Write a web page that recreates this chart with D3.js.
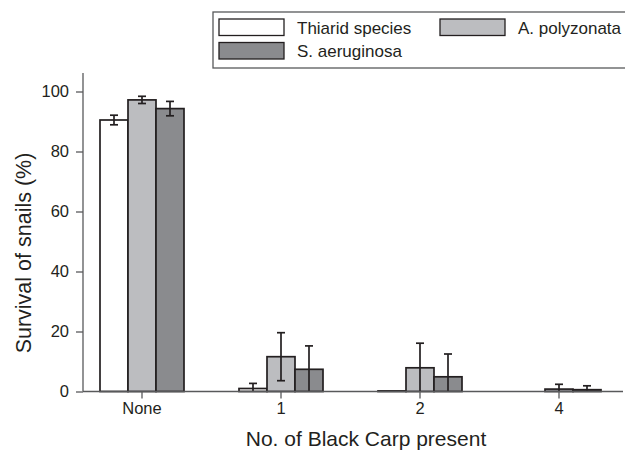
<!DOCTYPE html>
<html>
<head>
<meta charset="utf-8">
<script src="https://cdn.jsdelivr.net/npm/d3@7"></script>
<style>
  body { margin: 0; background: #fff; }
  svg text { font-family: "Liberation Sans", Arial, sans-serif; fill: #231f20; }
</style>
</head>
<body>
<div id="chart"></div>
<script>
// data
const groups = ["None", "1", "2", "4"];
const seriesNames = ["Thiarid species", "A. polyzonata", "S. aeruginosa"];
const seriesColors = ["#ffffff", "#bcbdc0", "#8a8b8e"];
const thiarid = [90.5, 1.0, 0.2, 0.0];
const thiaridErr = [1.6, 1.7, 0, 0];
const polyzonata = [97.2, 11.6, 7.9, 0.8];
const polyzonataErr = [1.2, 8.0, 8.2, 1.6];
const aeruginosa = [94.3, 7.4, 4.9, 0.6];
const aeruginosaErr = [2.4, 7.8, 7.6, 1.3];
const yTicks = [0, 20, 40, 60, 80, 100];

const values = [thiarid, polyzonata, aeruginosa];
const errors = [thiaridErr, polyzonataErr, aeruginosaErr];

const width = 625, height = 452;
const ink = "#231f20", axisCol = "#58595b";

const svg = d3.select("#chart").append("svg")
	.attr("width", width)
	.attr("height", height);

const x0 = d3.scaleBand().domain(groups).range([72.5, 628.5]);
const x1 = d3.scaleBand().domain(seriesNames).range([-42, 42]);
const y = d3.scaleLinear().domain([0, 100]).range([391.5, 91.5]);

// bars
const barData = [];
groups.forEach((g, gi) => {
	seriesNames.forEach((s, si) => {
		barData.push({ g: g, s: s, si: si, v: values[si][gi], e: errors[si][gi] });
	});
});

const cx = d => x0(d.g) + x0.bandwidth() / 2 + x1(d.s);

svg.append("g").selectAll("rect").data(barData).join("rect")
	.attr("x", d => cx(d))
	.attr("width", x1.bandwidth())
	.attr("y", d => y(d.v))
	.attr("height", d => y(0) - y(d.v))
	.attr("fill", d => seriesColors[d.si])
	.attr("stroke", ink)
	.attr("stroke-width", 1.7);

// error bars
const errG = svg.append("g").attr("stroke", ink).attr("stroke-width", 1.7);
barData.filter(d => d.e > 0).forEach(d => {
	const mx = cx(d) + x1.bandwidth() / 2;
	errG.append("line").attr("x1", mx).attr("x2", mx)
		.attr("y1", y(d.v + d.e)).attr("y2", y(Math.max(0, d.v - d.e)));
	errG.append("line").attr("x1", mx - 4).attr("x2", mx + 4)
		.attr("y1", y(d.v + d.e)).attr("y2", y(d.v + d.e));
	if (d.v - d.e > 0) {
		errG.append("line").attr("x1", mx - 4).attr("x2", mx + 4)
			.attr("y1", y(d.v - d.e)).attr("y2", y(d.v - d.e));
	}
});

// y axis
const yAxis = svg.append("g")
	.attr("transform", "translate(83,0)")
	.call(d3.axisLeft(y).tickValues(yTicks).tickSize(7).tickPadding(7));
yAxis.select(".domain").remove();
yAxis.append("line").attr("x1", 0).attr("x2", 0).attr("y1", 73).attr("y2", y(0))
	.attr("stroke", axisCol).attr("stroke-width", 1.3);
yAxis.selectAll(".tick line").attr("stroke", axisCol).attr("stroke-width", 1.3);
yAxis.selectAll(".tick text").attr("font-size", 16.5).attr("fill", ink);

// x axis
const xAxis = svg.append("g")
	.attr("transform", `translate(0,${y(0)})`)
	.call(d3.axisBottom(x0).tickSize(7).tickPadding(4));
xAxis.select(".domain").remove();
xAxis.append("line").attr("x1", 83).attr("x2", 623).attr("y1", 0).attr("y2", 0)
	.attr("stroke", axisCol).attr("stroke-width", 1.3);
xAxis.selectAll(".tick line").attr("stroke", axisCol).attr("stroke-width", 1.3);
xAxis.selectAll(".tick text").attr("font-size", 16.5).attr("fill", ink);

// axis titles
svg.append("text")
	.attr("transform", "translate(31,253) rotate(-90)")
	.attr("text-anchor", "middle")
	.attr("font-size", 21.5)
	.text("Survival of snails (%)");

svg.append("text")
	.attr("x", 366).attr("y", 446)
	.attr("text-anchor", "middle")
	.attr("font-size", 21)
	.text("No. of Black Carp present");

// legend
const legend = svg.append("g");
legend.append("rect")
	.attr("x", 213).attr("y", 12).attr("width", 440).attr("height", 56)
	.attr("fill", "#fff").attr("stroke", axisCol).attr("stroke-width", 1.3);

const legPos = [[219, 19], [440, 19], [219, 42.5]];
seriesNames.forEach((s, i) => {
	const [lx, ly] = legPos[i];
	legend.append("rect")
		.attr("x", lx).attr("y", ly).attr("width", 65).attr("height", 16.5)
		.attr("fill", seriesColors[i]).attr("stroke", ink).attr("stroke-width", 1.3);
	legend.append("text")
		.attr("x", lx + 78).attr("y", ly + 14.5)
		.attr("font-size", 17)
		.text(s);
});
</script>
</body>
</html>
